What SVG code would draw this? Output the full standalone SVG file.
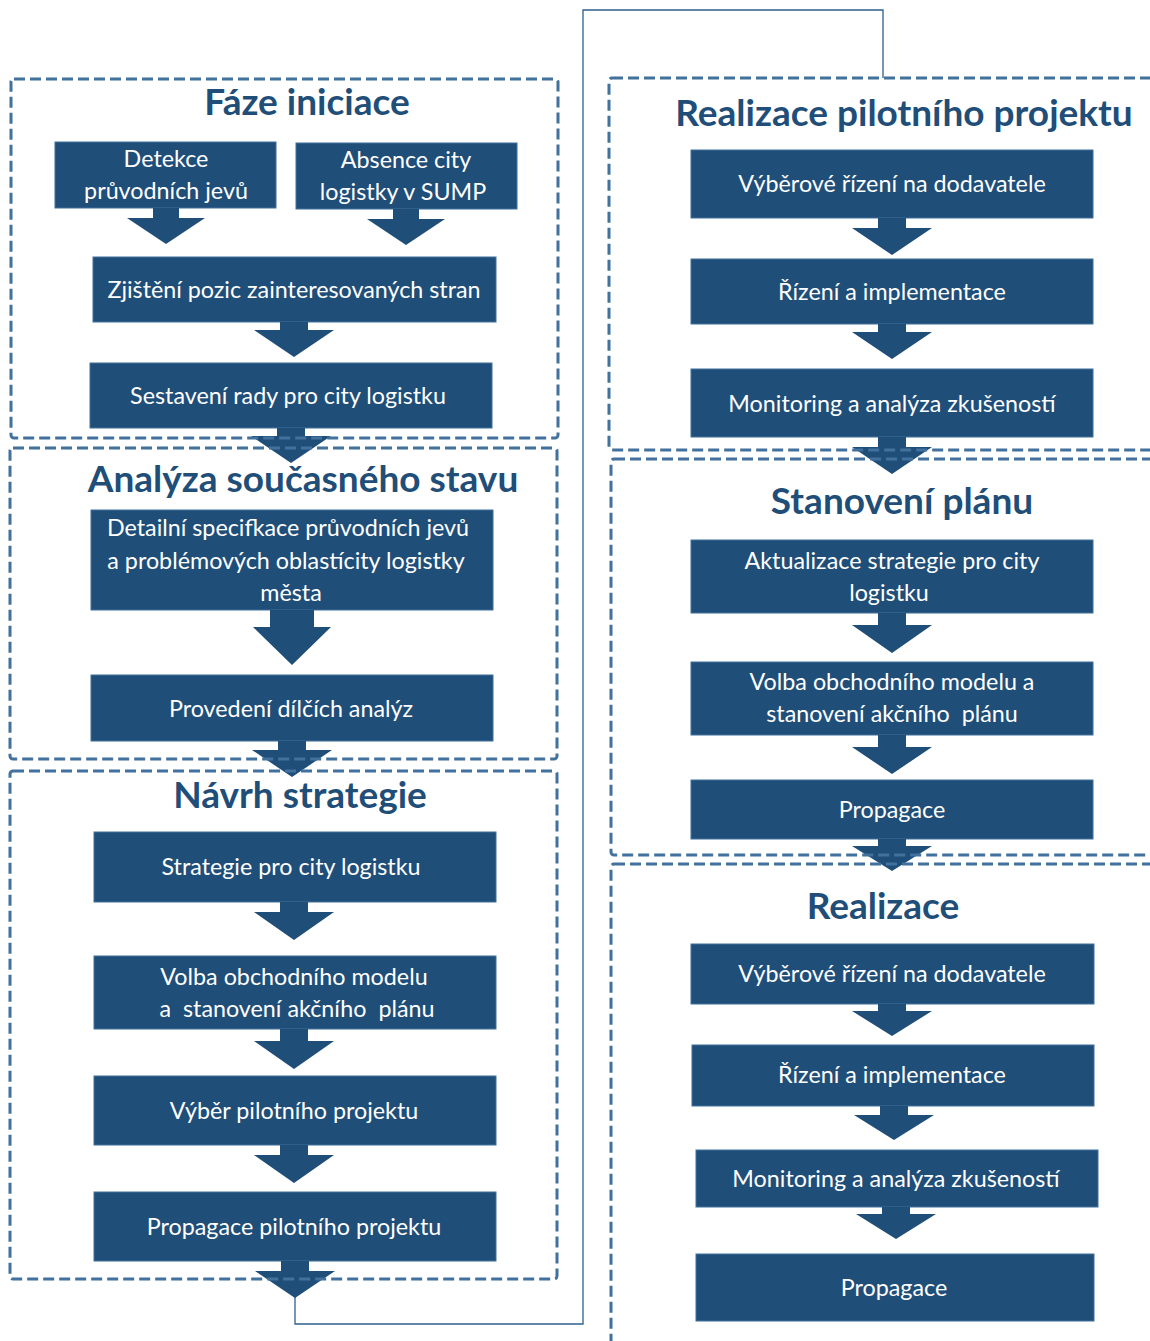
<svg xmlns="http://www.w3.org/2000/svg" width="1150" height="1341" viewBox="0 0 1150 1341">
<defs>
<style>
.node rect{fill:#1F4E79;stroke:#41719C;stroke-width:1}
.node text{fill:#FFFFFF;font-family:Lato,"Liberation Sans",sans-serif;font-size:23.3px;text-anchor:middle;dominant-baseline:central}
.frame{fill:none;stroke:#41719C;stroke-width:3;stroke-dasharray:11 5}
.title{fill:#1F4E79;font-family:Lato,"Liberation Sans",sans-serif;font-weight:bold;font-size:37px;text-anchor:middle}
.arrow{fill:#1F4E79}
.line{fill:none;stroke:#2F5F8F;stroke-width:1.3}
</style>
</defs>
<rect width="1150" height="1341" fill="#FFFFFF"/>

<!-- nodes -->
<g id="n-detekce" class="node"><rect x="55" y="142" width="221" height="66"/><text x="166" y="158">Detekce</text><text x="166" y="190">průvodních jevů</text></g>
<g id="n-absence" class="node"><rect x="296" y="143" width="221" height="66"/><text x="406" y="159">Absence city</text><text x="403" y="191">logistky v SUMP</text></g>
<g id="n-zjisteni" class="node"><rect x="93" y="257" width="403" height="65"/><text x="294" y="289">Zjištění pozic zainteresovaných stran</text></g>
<g id="n-sestaveni" class="node"><rect x="90" y="363" width="402" height="65"/><text x="288" y="395">Sestavení rady pro city logistku</text></g>
<g id="n-detailni" class="node"><rect x="91" y="510" width="402" height="100"/><text x="288" y="527">Detailní specifkace průvodních jevů</text><text x="286" y="560">a problémových oblastícity logistky</text><text x="291" y="592">města</text></g>
<g id="n-provedeni" class="node"><rect x="91" y="675" width="402" height="66"/><text x="291" y="708">Provedení dílčích analýz</text></g>
<g id="n-strategie" class="node"><rect x="94" y="832" width="402" height="70"/><text x="291" y="866">Strategie pro city logistku</text></g>
<g id="n-volba-l" class="node"><rect x="94" y="956" width="402" height="73"/><text x="294" y="976">Volba obchodního modelu</text><text x="297" y="1008" xml:space="preserve">a  stanovení akčního  plánu</text></g>
<g id="n-vyber" class="node"><rect x="94" y="1076" width="402" height="69"/><text x="294" y="1110">Výběr pilotního projektu</text></g>
<g id="n-propagace-pil" class="node"><rect x="94" y="1192" width="402" height="69"/><text x="294" y="1226">Propagace pilotního projektu</text></g>

<g id="n-vyberove-1" class="node"><rect x="691" y="150" width="402" height="68"/><text x="892" y="183">Výběrové řízení na dodavatele</text></g>
<g id="n-rizeni-1" class="node"><rect x="691" y="259" width="402" height="65"/><text x="892" y="291">Řízení a implementace</text></g>
<g id="n-monitoring-1" class="node"><rect x="691" y="369" width="402" height="68"/><text x="892" y="403">Monitoring a analýza zkušeností</text></g>
<g id="n-aktualizace" class="node"><rect x="691" y="540" width="402" height="73"/><text x="892" y="560">Aktualizace strategie pro city</text><text x="889" y="592">logistku</text></g>
<g id="n-volba-r" class="node"><rect x="691" y="662" width="402" height="73"/><text x="892" y="681">Volba obchodního modelu a</text><text x="892" y="713" xml:space="preserve">stanovení akčního  plánu</text></g>
<g id="n-propagace-1" class="node"><rect x="691" y="780" width="402" height="59"/><text x="892" y="809">Propagace</text></g>
<g id="n-vyberove-2" class="node"><rect x="691" y="944" width="403" height="60"/><text x="892" y="973">Výběrové řízení na dodavatele</text></g>
<g id="n-rizeni-2" class="node"><rect x="692" y="1045" width="402" height="61"/><text x="892" y="1074">Řízení a implementace</text></g>
<g id="n-monitoring-2" class="node"><rect x="696" y="1150" width="402" height="57"/><text x="896" y="1178">Monitoring a analýza zkušeností</text></g>
<g id="n-propagace-2" class="node"><rect x="696" y="1254" width="398" height="67"/><text x="894" y="1287">Propagace</text></g>

<!-- connectors -->
<g id="connectors">
<path class="line" d="M295 1297 V1324 H583 V10 H883 V78"/>
<path class="arrow" d="M153 208 h26 v10 h26 l-39 26 l-39 -26 h26 z"/>
<path class="arrow" d="M393 209 h26 v10 h26 l-39 26 l-39 -26 h26 z"/>
<path class="arrow" d="M280 322 h28 v8 h26 l-40 27 l-40 -27 h26 z"/>
<path class="arrow" d="M277 428 h28 v8 h26 l-40 27 l-40 -27 h26 z"/>
<path class="arrow" d="M270 610 h44 v17 h17 l-39 38 l-39 -38 h17 z"/>
<path class="arrow" d="M278 741 h28 v9 h26 l-40 27 l-40 -27 h26 z"/>
<path class="arrow" d="M280 902 h28 v10 h26 l-40 28 l-40 -28 h26 z"/>
<path class="arrow" d="M280 1029 h28 v12 h26 l-40 28 l-40 -28 h26 z"/>
<path class="arrow" d="M280 1145 h28 v10 h26 l-40 28 l-40 -28 h26 z"/>
<path class="arrow" d="M281 1261 h28 v10 h26 l-40 27 l-40 -27 h26 z"/>

<path class="arrow" d="M878 218 h28 v10 h26 l-40 27 l-40 -27 h26 z"/>
<path class="arrow" d="M878 324 h28 v8 h26 l-40 27 l-40 -27 h26 z"/>
<path class="arrow" d="M878 437 h28 v10 h26 l-40 27 l-40 -27 h26 z"/>
<path class="arrow" d="M878 613 h28 v12 h26 l-40 28 l-40 -28 h26 z"/>
<path class="arrow" d="M878 735 h28 v12 h26 l-40 27 l-40 -27 h26 z"/>
<path class="arrow" d="M878 839 h28 v7 h26 l-40 25 l-40 -25 h26 z"/>
<path class="arrow" d="M878 1004 h28 v7 h26 l-40 25 l-40 -25 h26 z"/>
<path class="arrow" d="M880 1106 h28 v9 h26 l-40 25 l-40 -25 h26 z"/>
<path class="arrow" d="M882 1207 h28 v7 h26 l-40 25 l-40 -25 h26 z"/>
</g>

<!-- phase frames -->
<g id="phase-iniciace"><rect class="frame" x="11" y="79" width="547" height="359" rx="3"/><text class="title" x="307" y="115">Fáze iniciace</text></g>
<g id="phase-analyza"><rect class="frame" x="10" y="448" width="547" height="311" rx="3"/><text class="title" x="303" y="492">Analýza současného stavu</text></g>
<g id="phase-navrh"><rect class="frame" x="10" y="771" width="547" height="508" rx="3"/><text class="title" x="300" y="808">Návrh strategie</text></g>
<g id="phase-realizace-pil"><rect class="frame" x="609" y="78" width="560" height="372" rx="3"/><text class="title" x="904" y="126">Realizace pilotního projektu</text></g>
<g id="phase-stanoveni"><rect class="frame" x="611" y="459" width="560" height="396" rx="3"/><text class="title" x="902" y="514">Stanovení plánu</text></g>
<g id="phase-realizace"><rect class="frame" x="611" y="864" width="560" height="500" rx="3"/><text class="title" x="883" y="919">Realizace</text></g>
</svg>
